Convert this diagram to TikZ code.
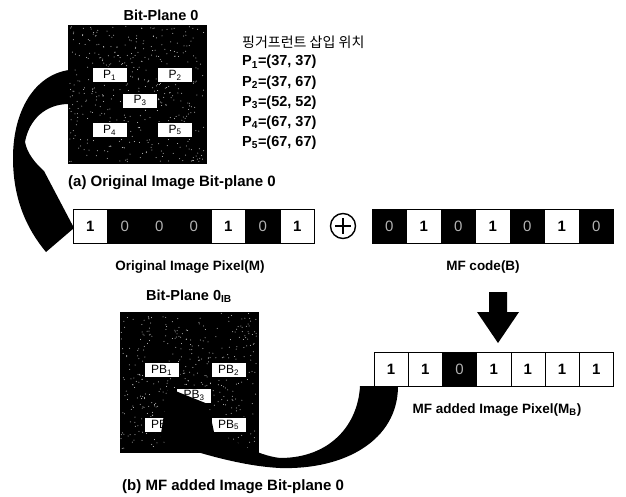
\documentclass[tikz,border=0pt]{standalone}
\usepackage{fontspec}
\setmainfont{Liberation Sans}
\newfontfamily\krfont{Noto Sans CJK KR}
\usetikzlibrary{positioning,calc}

\tikzset{
  plane/.style={rectangle, fill=black, draw=black, inner sep=0},
  pbox/.style={rectangle, draw=black, fill=white, minimum width=35, minimum height=15, inner sep=0, font=\fontsize{12}{12}\selectfont},
  bit1/.style={rectangle, draw=black, fill=white, minimum width=34.5, minimum height=34, inner sep=0, font=\bfseries\fontsize{15}{15}\selectfont},
  bit0/.style={bit1, fill=black, text=white!70!black, font=\fontsize{15}{15}\selectfont},
  txt/.style={inner sep=0, font=\bfseries\fontsize{14.5}{17}\selectfont},
  barlabel/.style={inner sep=0, font=\bfseries\fontsize{13.5}{16}\selectfont},
  swoosh/.style={fill=black}
}

\begin{document}
\begin{tikzpicture}[x=1pt,y=-1pt]
\useasboundingbox (0,0) rectangle (626,497);

% (a) original bit-plane
\node[plane, minimum width=138, minimum height=138] (planeA) at (137,94) {};
\pgfmathsetseed{11}
\foreach \i in {1,...,450}
  \fill[white!80!black] ({69+136*rnd},{26+136*rnd}) circle (0.5pt);
\node[pbox] (p1) at (109.5,75) {P\textsubscript{1}};
\node[pbox] (p2) at (175,75) {P\textsubscript{2}};
\node[pbox] (p3) at (140,100.5) {P\textsubscript{3}};
\node[pbox] (p4) at (109.5,130) {P\textsubscript{4}};
\node[pbox] (p5) at (175,130) {P\textsubscript{5}};
\node[txt] (titleA) at (161,15) {Bit-Plane 0};
\node[txt, anchor=west, font=\bfseries\fontsize{15}{17}\selectfont] (capA) at (68,183) {(a) Original Image Bit-plane 0};

% insertion positions
\node[anchor=west, inner sep=0, font=\krfont\fontsize{14}{14}\selectfont] (fphead) at (242,42) {핑거프런트 삽입 위치};
\foreach \n/\c [count=\k] in {1/{(37, 37)},2/{(37, 67)},3/{(52, 52)},4/{(67, 37)},5/{(67, 67)}}
  \node[txt, anchor=west] (pos\n) at (242,{42+20.2*\k}) {P\textsubscript{\n}=\c};

% pixel bars
\foreach \b [count=\i] in {1,0,0,0,1,0,1}
  \node[bit\b] (m\i) at ({73+34.5*(\i-0.5)},226) {\b};
\foreach \b [count=\i] in {0,1,0,1,0,1,0}
  \node[bit\b] (c\i) at ({372+34.5*(\i-0.5)},226) {\b};
\foreach \b [count=\i] in {1,1,0,1,1,1,1}
  \node[bit\b, minimum width=34.2] (mb\i) at ({374+34.2*(\i-0.5)},369) {\b};

% xor sign
\node[circle, draw, line width=1.4, minimum size=25, inner sep=0] (plus) at (343,226) {};
\draw[line width=2.8] (plus.center) ++(0,-8) -- ++(0,16) (plus.center) ++(-8,0) -- ++(16,0);

\node[barlabel] (lblM) at (190,267) {Original Image Pixel(M)};
\node[barlabel] (lblB) at (483,267) {MF code(B)};
\node[barlabel] (lblMB) at (497,410) {MF added Image Pixel(M\textsubscript{B})};

% down arrow
\fill (489,292) -- (507,292) -- (507,312) -- (519,312) -- (498,343) -- (477,312) -- (489,312) -- cycle;

% (b) bit-plane with MF
\node[plane, minimum width=138, minimum height=140] (planeB) at (189,382) {};
\foreach \i in {1,...,450}
  \fill[white!80!black] ({121+136*rnd},{313+138*rnd}) circle (0.5pt);
\node[pbox] (pb1) at (161.5,370) {PB\textsubscript{1}};
\node[pbox] (pb2) at (228.5,370) {PB\textsubscript{2}};
\node[pbox] (pb3) at (194,395.5) {PB\textsubscript{3}};
\node[pbox] (pb4) at (161.5,425) {PB\textsubscript{4}};
\node[pbox] (pb5) at (228.5,425) {PB\textsubscript{5}};
\node[txt] (titleB) at (189,296) {Bit-Plane 0\textsubscript{IB}};
\node[txt, anchor=west, font=\bfseries\fontsize{15}{17}\selectfont] (capB) at (122,487) {(b) MF added Image Bit-plane 0};

% curved arrows
\fill[swoosh] (69,70) .. controls (35,75) and (13,110) .. (13,158)
  .. controls (13,198) and (26,228) .. (46,252) -- (74,228) -- (44,171)
  .. controls (35,163) and (27,153) .. (25,142)
  .. controls (29,120) and (45,104) .. (69,104) -- cycle;
\fill[swoosh] (360,386) -- (398,386) .. controls (398,440) and (345,470) .. (280,468)
  .. controls (240,466) and (195,452) .. (160,440) -- (168,388) -- (208,404) -- (214,432)
  .. controls (235,440) and (255,455) .. (280,458)
  .. controls (330,458) and (358,425) .. (360,386) -- cycle;
\end{tikzpicture}
\end{document}
